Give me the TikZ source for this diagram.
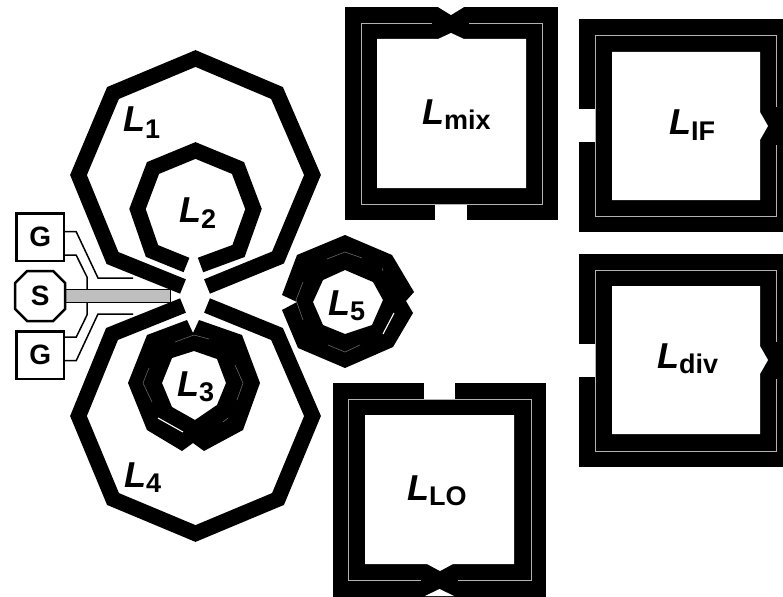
\documentclass[tikz,border=0pt]{standalone}
\usepackage{fontspec}
\setmainfont{Liberation Sans}
\newcommand{\lbl}[2][5pt]{\textbf{\fontsize{36}{36}\selectfont\textit{L}}\raisebox{-#1}{\textbf{\fontsize{27}{27}\selectfont #2}}}
\tikzset{
  trace/.style={draw=black,line width=15.5pt,line join=miter,line cap=butt},
  hair/.style={draw=black!30,line width=0.9pt},
  faint/.style={draw=black!60,line width=0.6pt},
  hairw/.style={draw=white,line width=1.1pt},
  blk/.style={fill=black,draw=none},
  wht/.style={fill=white,draw=none},
  wire/.style={draw=black,line width=1.5pt},
  pad/.style={draw=black,line width=2.5pt,fill=white,inner sep=0pt,minimum width=47.5pt,minimum height=47.5pt,font=\bfseries\fontsize{28}{28}\selectfont},
  lab/.style={anchor=base west,inner sep=0pt,text=black}
}
\begin{document}
\begin{tikzpicture}[x=1pt,y=-1pt]
\useasboundingbox (0,0) rectangle (783,596);
\begin{scope}
\clip (0,0) rectangle (783,596);
% L1, L4
\draw[trace] (183,286.5) -- (112.5,258) -- (78.5,175) -- (113,93) -- (195.5,58.5) -- (277,93) -- (312.5,175) -- (278,257.5) -- (207,286.5);
\draw[trace] (183,305.5) -- (112,334) -- (78.5,416) -- (113,499) -- (195.5,533.5) -- (278,499) -- (312.5,416) -- (277,334) -- (207,305.5);
% L2
\draw[trace] (186.5,265) -- (152,251) -- (137.5,209) -- (153,168) -- (195.5,150.5) -- (238,168) -- (253.5,209) -- (238.5,251) -- (200.5,265);
% L3
\fill[blk,even odd rule] (187,320) -- (147,335) -- (128,383) -- (147,430) -- (182,451) -- (193,443) -- (204,451) -- (243,430) -- (260,383) -- (242,335) -- (199,320) -- (193,333) -- cycle
  (194,351) -- (217,359) -- (226,383) -- (217,405) -- (195,420) -- (172,407) -- (162,383) -- (172,358) -- cycle;
\draw[faint] (175,342) -- (194,335) -- (209,339);
\draw[faint] (149,368) -- (143,383) -- (152,402);
\draw[faint] (235,365) -- (243,383) -- (237,400);
\draw[hairw] (158,418) -- (183,432);
\draw[faint] (223,422) -- (228,418);
% L5
\fill[blk,even odd rule] (345,235) -- (392,255) -- (414,292) -- (406,301) -- (413,313) -- (393,347) -- (345,368) -- (298,348) -- (282,310) -- (297,302) -- (282,295) -- (297,255) -- cycle
  (345,270) -- (373,282) -- (383,300) -- (372,325) -- (345,334) -- (323,325) -- (313,302) -- (323,280) -- cycle;
\draw[faint] (327,259) -- (345,252) -- (362,258);
\draw[faint] (303,282) -- (296,300) -- (303,320);
\draw[faint] (328,345) -- (345,352) -- (360,345);
\draw[hairw] (394,313) -- (383,334);
\draw[faint] (382,268) -- (383,271);
% Lmix
\fill[blk] (345,7) rectangle (558,220);
\fill[wht] (438,7) -- (451,15) -- (464,7) -- cycle;
\fill[wht] (435,204.5) rectangle (467,220);
\fill[wht] (377,39) -- (438,39) -- (451,33) -- (464,39) -- (526,39) -- (526,188) -- (377,188) -- cycle;
\draw[hair] (432,23) -- (361,23) -- (361,204) -- (542,204) -- (542,23) -- (469,23);
% LIF
\fill[blk] (579,19) rectangle (790,232);
\fill[wht] (579,109) rectangle (595,142);
\fill[wht] (612,52) -- (760,52) -- (760,112) -- (768,126) -- (760,140) -- (760,200) -- (612,200) -- cycle;
\draw[hair] (776.5,107) -- (776.5,35) -- (595,35) -- (595,216) -- (776.5,216) -- (776.5,145);
% Ldiv
\fill[blk] (579,254) rectangle (790,467);
\fill[wht] (579,344) rectangle (595,377);
\fill[wht] (612,286) -- (760,286) -- (760,346) -- (768,360) -- (760,374) -- (760,434) -- (612,434) -- cycle;
\draw[hair] (776.5,342) -- (776.5,270) -- (595,270) -- (595,451) -- (776.5,451) -- (776.5,379);
% LLO
\fill[blk] (333,383) rectangle (546,600);
\fill[wht] (424,383) rectangle (455,399);
\fill[wht] (425,596) -- (439.5,589) -- (454,596) -- cycle;
\fill[wht] (365,415) -- (514,415) -- (514,564) -- (453,564) -- (440,571) -- (427,564) -- (365,564) -- cycle;
\draw[hair] (421,580) -- (348,580) -- (348,399) -- (531,399) -- (531,580) -- (458,580);
\end{scope}
% signal strip
\node[draw=black,line width=1.4pt,fill=black!25,minimum width=105pt,minimum height=13.5pt,inner sep=0pt,anchor=west] (strip) at (65,296) {};
% pads
\node[pad] (g1) at (40.2,237.2) {G};
\node[pad] (g2) at (40.2,355.2) {G};
\node[pad,draw=none,fill=none] (s) at (40.2,296) {};
\draw[draw=black,line width=2.5pt,fill=white] ([xshift=12pt]s.north west) -- ([xshift=-12pt]s.north east) -- ([yshift=-12pt]s.north east) -- ([yshift=12pt]s.south east) -- ([xshift=-12pt]s.south east) -- ([xshift=12pt]s.south west) -- ([yshift=12pt]s.south west) -- ([yshift=-12pt]s.north west) -- cycle;
\node[font=\bfseries\fontsize{28}{28}\selectfont,inner sep=0pt] (stext) at (s.center) {S};
% wires
\coordinate (e1) at (133,278);
\coordinate (e2) at (133,314);
\draw[wire] ([yshift=5.5pt]g1.east) -- ++(11,0) -- (98,278) -- (e1);
\draw[wire] ([yshift=-18pt]g1.east) -- ++(11,0) -- (87,277) -- (87,289);
\draw[wire] ([yshift=18pt]g2.east) -- ++(11,0) -- (87,315) -- (87,303);
\draw[wire] ([yshift=-5.5pt]g2.east) -- ++(11,0) -- (98,314) -- (e2);
% labels
\node[lab] (l1) at (123,132) {\lbl[6pt]{1}};
\node[lab] (l2) at (179,222) {\lbl[6pt]{2}};
\node[lab] (l3) at (177,396) {\lbl{3}};
\node[lab] (l4) at (124,487) {\lbl{4}};
\node[lab] (l5) at (328,315) {\lbl{5}};
\node[lab] (lmix) at (422,125) {\lbl{mix}};
\node[lab] (lif) at (669,135) {\lbl[6pt]{IF}};
\node[lab] (ldiv) at (657,368) {\lbl{div}};
\node[lab] (llo) at (407,500) {\lbl{LO}};
\end{tikzpicture}
\end{document}
